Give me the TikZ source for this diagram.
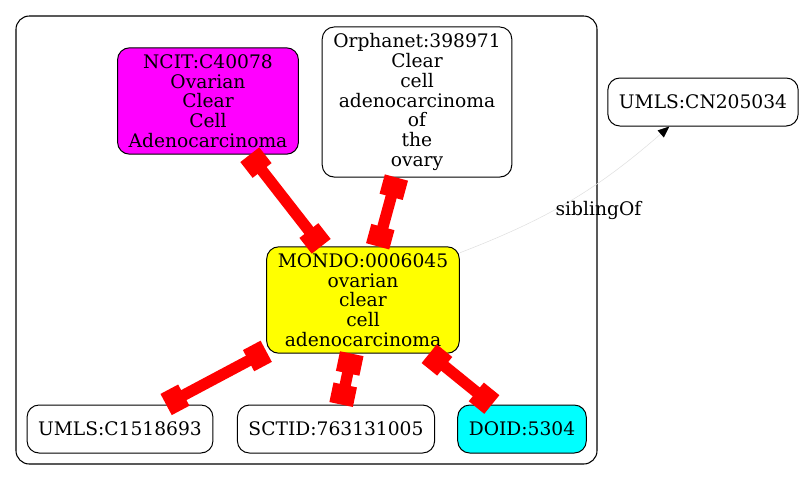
\documentclass[tikz,border=0pt]{standalone}
\usepackage{fontspec}
\setmainfont{DejaVu Serif}
\usetikzlibrary{arrows.meta}

\definecolor{ncitfill}{RGB}{255,0,255}
\definecolor{mondofill}{RGB}{255,255,0}
\definecolor{doidfill}{RGB}{0,255,255}
\definecolor{xrefred}{RGB}{255,0,0}

\tikzset{
  term/.style={draw, rounded corners=9pt, align=center,
    font=\fontsize{14}{14.8}\selectfont, inner xsep=8.3pt, inner ysep=5pt,
    minimum height=36pt, line width=0.75pt},
  xref/.style={draw=xrefred, line width=8.5pt,
    arrows={Rectangle[length=15pt,width=18pt]-Rectangle[length=15pt,width=18pt]}},
  sibling/.style={draw=gray!25, line width=0.4pt,
    -{Triangle[length=8.5pt,width=7pt,color=black]}}
}

\begin{document}
\begin{tikzpicture}[x=0.75pt,y=-0.75pt]
    \useasboundingbox (0,0) rectangle (805,480);

    % cluster
    \draw[rounded corners=10pt, line width=0.8pt] (16,16) rectangle (597,464);

    \node[term, fill=ncitfill] (ncit) at (208,101) {NCIT:C40078\\Ovarian\\Clear\\Cell\\Adenocarcinoma};
    \node[term] (orpha) at (417,102) {Orphanet:398971\\Clear\\cell\\adenocarcinoma\\of\\the\\ovary};
    \node[term, fill=mondofill] (mondo) at (363,300) {MONDO:0006045\\ovarian\\clear\\cell\\adenocarcinoma};
    \node[term] (umls) at (120,429) {UMLS:C1518693};
    \node[term] (sctid) at (336,429) {SCTID:763131005};
    \node[term, fill=doidfill] (doid) at (522,429) {DOID:5304};
    \node[term] (ucn) at (703,102) {UMLS:CN205034};

    \draw[xref] (ncit) -- (mondo);
    \draw[xref] (orpha) -- (mondo);
    \draw[xref] (mondo) -- (umls);
    \draw[xref] (mondo) -- (sctid);
    \draw[xref] (mondo) -- (doid);

    \draw[sibling] (mondo.26) to[bend right=10]
      node[pos=0.5, anchor=west, text=black, font=\fontsize{14}{14.8}\selectfont, xshift=-15pt, yshift=-8pt] {siblingOf} (ucn.216);
\end{tikzpicture}
\end{document}
